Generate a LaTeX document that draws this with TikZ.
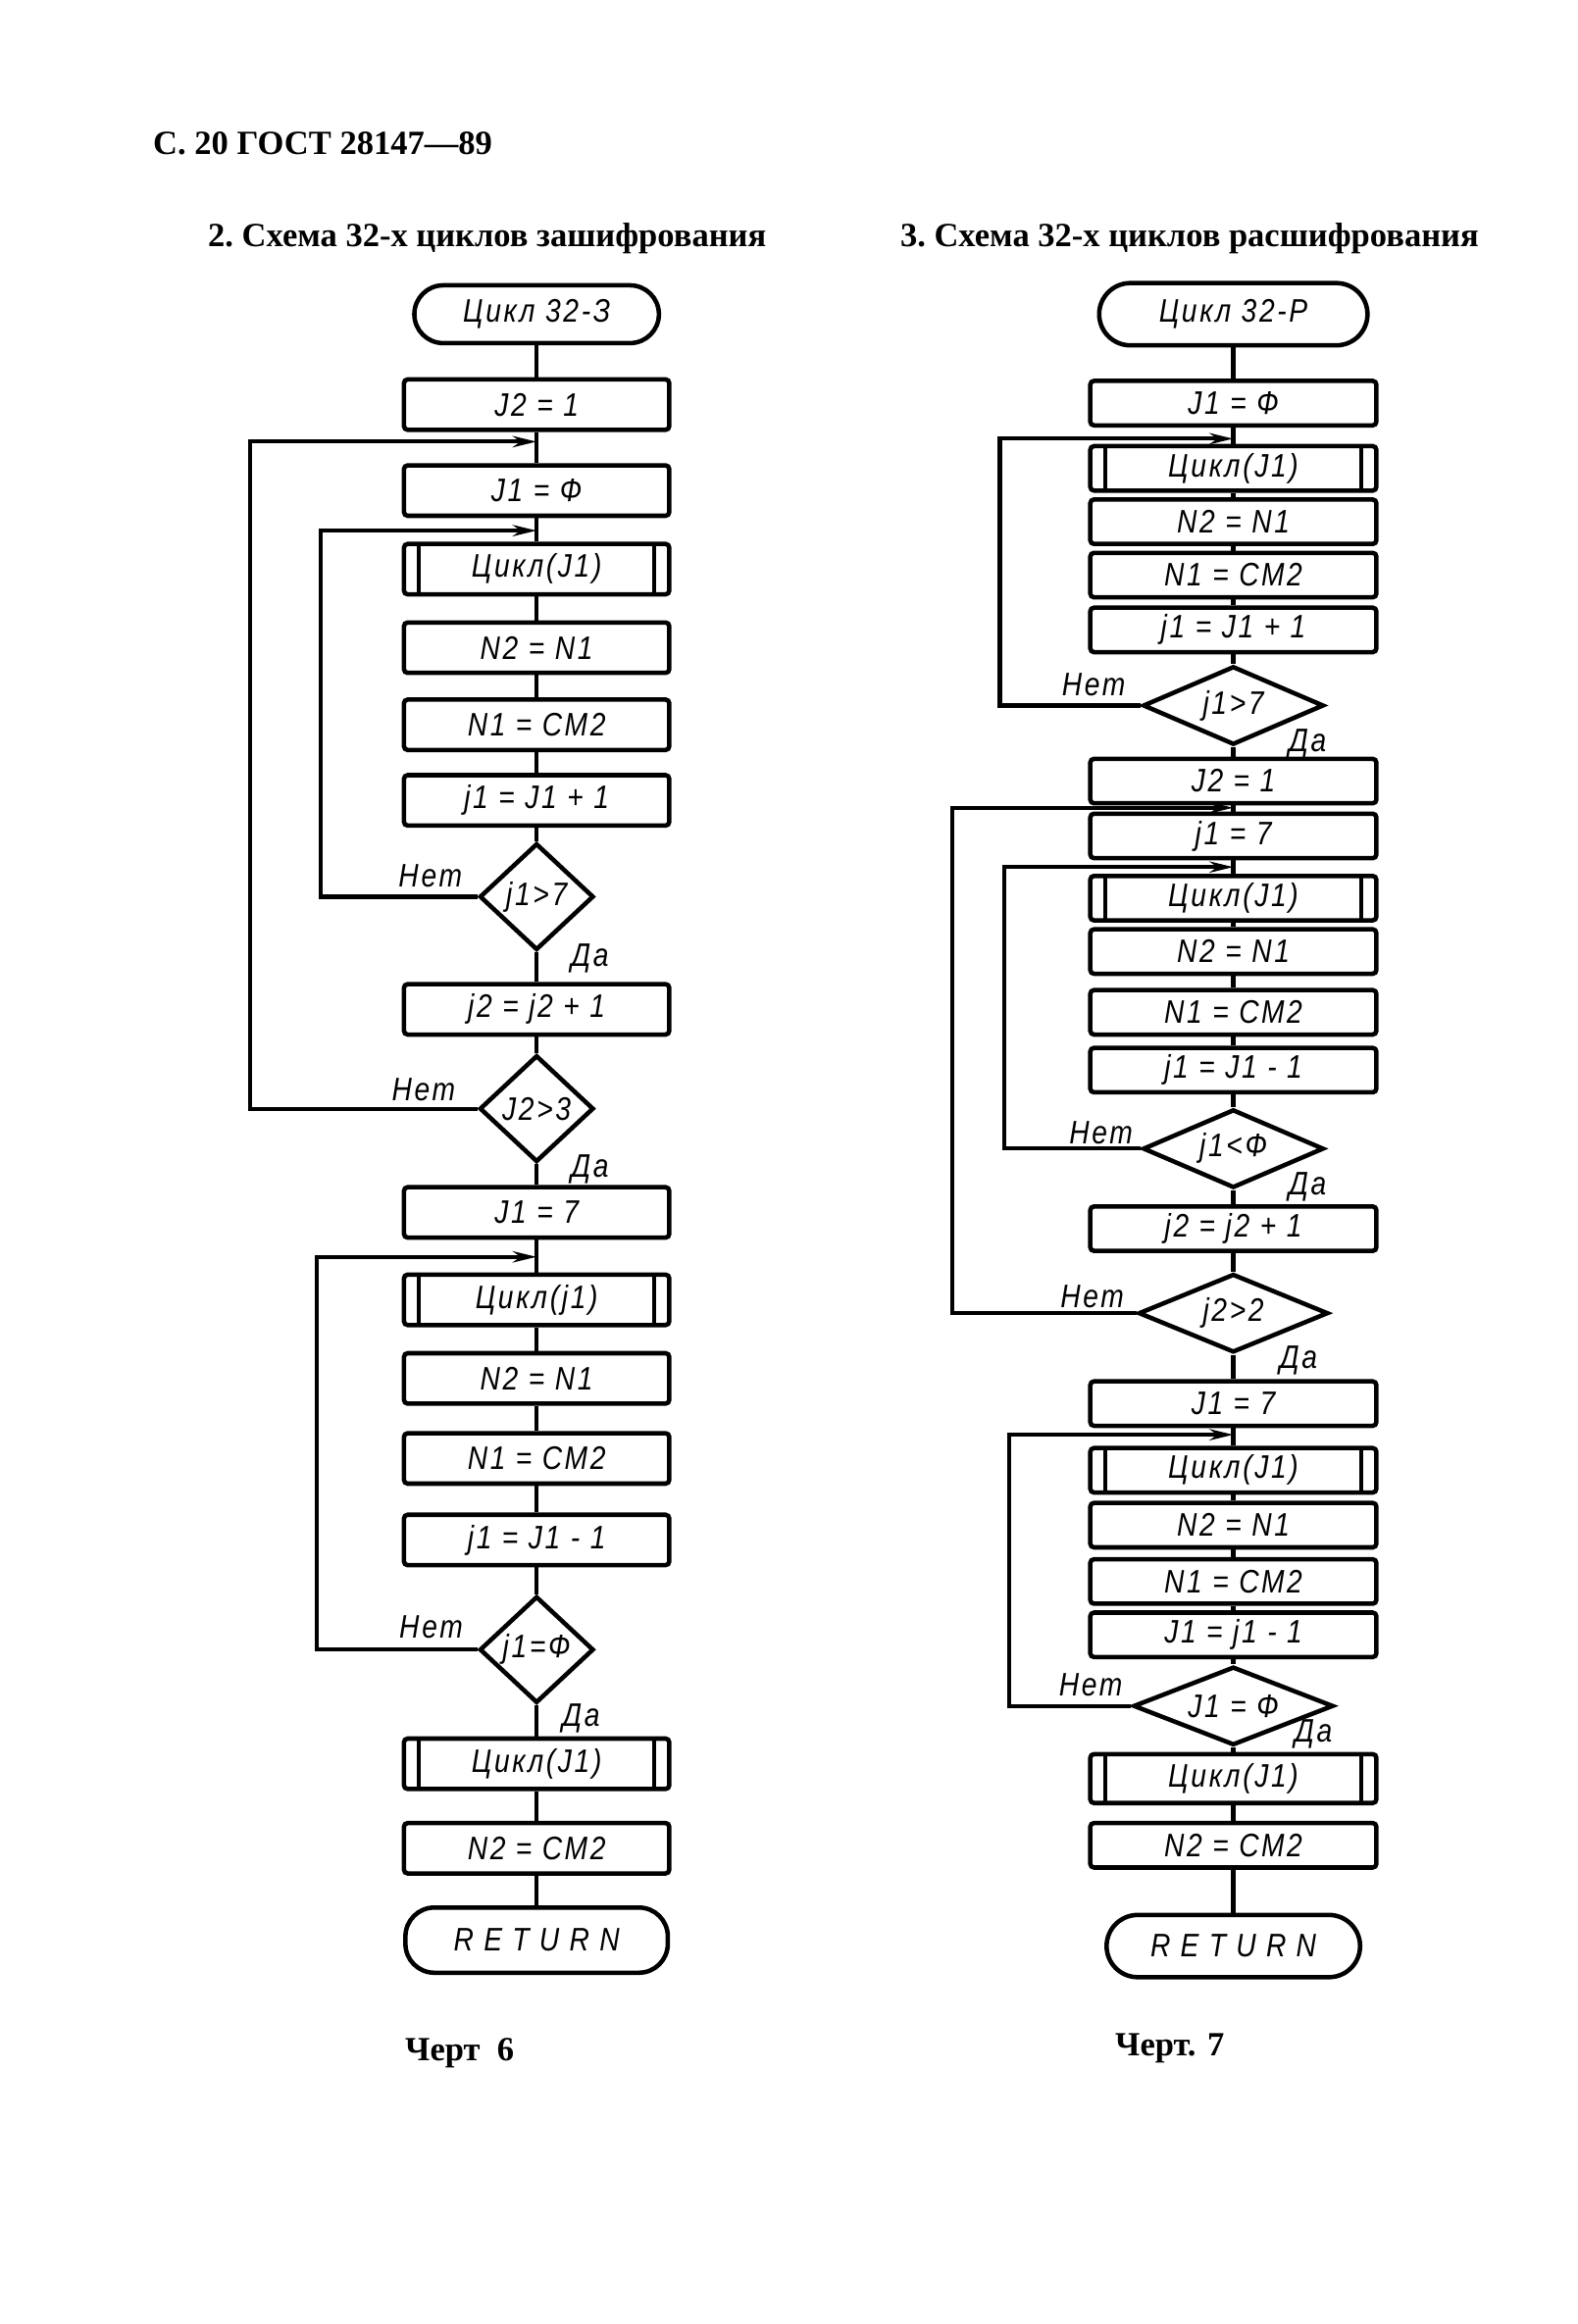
\documentclass[tikz,border=0pt]{standalone}
\usepackage{fontspec}
\setmainfont{Liberation Serif}
\newfontfamily\gostfont[LetterSpace=8, FakeStretch=0.85]{Liberation Sans}
\newfontfamily\gostwide[LetterSpace=31, FakeStretch=0.85]{Liberation Sans}
\usetikzlibrary{shapes,arrows.meta,positioning}
\tikzstyle{block} = [rectangle, draw, line width=0.6mm, rounded corners=0.5mm, inner sep=0pt, minimum width=35.8mm, minimum height=6.8mm, font=\gostfont\itshape\fontsize{12.5}{14}\selectfont]
\tikzstyle{wblock} = [block, minimum width=38.6mm, minimum height=6mm]
\tikzstyle{bars} = [path picture={
  \draw [line width=0.5mm] ([xshift=2mm]path picture bounding box.north west) -- ([xshift=2mm]path picture bounding box.south west);
  \draw [line width=0.5mm] ([xshift=-2mm]path picture bounding box.north east) -- ([xshift=-2mm]path picture bounding box.south east);}]
\tikzstyle{term} = [rectangle, draw, line width=0.6mm, rounded corners=3.9mm, inner sep=0pt, minimum width=33mm, minimum height=7.8mm, font=\gostfont\itshape\fontsize{12.5}{14}\selectfont]
\tikzstyle{decision} = [diamond, draw, line width=0.6mm, inner sep=0pt, minimum width=15.4mm, minimum height=14.4mm, font=\gostfont\itshape\fontsize{12.5}{14}\selectfont]
\tikzstyle{wdecision} = [decision, aspect=2.3, minimum width=24.4mm, minimum height=10.6mm]
\tikzstyle{line} = [draw, line width=0.55mm]
\tikzstyle{loopline} = [draw, line width=0.55mm, -{Stealth[length=3.2mm, width=1.5mm]}]
\tikzstyle{textyn} = [inner sep=0pt, font=\gostfont\itshape\fontsize{12.5}{14}\selectfont]
\tikzstyle{headtext} = [inner sep=0pt, anchor=west, font=\bfseries\fontsize{13}{15}\selectfont]

\begin{document}
\begin{tikzpicture}[node distance = 10.6mm, auto]
      \useasboundingbox (0,0) rectangle (212.8mm,-313.6mm);
      % headings
      \node [headtext] (page) at (20.6mm,-19.4mm) {С. 20 ГОСТ 28147—89};
      \node [headtext] (lhead) at (28mm,-32.2mm) {2.\ Схема 32-х циклов зашифрования};
      \node [headtext] (rhead) at (121.4mm,-32.2mm) {3.\ Схема 32-х циклов расшифрования};
      \node [headtext] (lfig) at (54.6mm,-277mm) {Черт\ \ 6};
      \node [headtext] (rfig) at (150.4mm,-276.4mm) {Черт. 7};

      % place nodes: encryption
      \node [term] (lt) at (72.4mm,-42.4mm) {Цикл 32-З};
      \node [block, below of=lt, node distance=12.2mm] (l1) {J2 = 1};
      \node [block, below of=l1, node distance=11.6mm] (l2) {J1 = Ф};
      \node [block, bars, below of=l2] (l3) {Цикл(J1)};
      \node [block, below of=l3] (l4) {N2 = N1};
      \node [block, below of=l4, node distance=10.4mm] (l5) {N1 = СМ2};
      \node [block, below of=l5, node distance=10.2mm] (l6) {j1 = J1 + 1};
      \node [decision, below of=l6, node distance=13mm] (ld1) {j1>7};
      \node [block, below of=ld1, node distance=15.2mm] (l7) {j2 = j2 + 1};
      \node [decision, below of=l7, node distance=13.4mm] (ld2) {J2>3};
      \node [block, below of=ld2, node distance=14mm] (l8) {J1 = 7};
      \node [block, bars, below of=l8, node distance=11.8mm] (l9) {Цикл(j1)};
      \node [block, below of=l9] (l10) {N2 = N1};
      \node [block, below of=l10, node distance=10.8mm] (l11) {N1 = СМ2};
      \node [block, below of=l11, node distance=11mm] (l12) {j1 = J1 - 1};
      \node [decision, below of=ld1, node distance=101.6mm] (ld3) {j1=Ф};
      \node [block, bars, below of=ld3, node distance=15.4mm] (l13) {Цикл(J1)};
      \node [block, below of=l13, node distance=11.4mm] (l14) {N2 = СМ2};
      \node [term, below of=l14, node distance=12.4mm, minimum width=35.4mm, minimum height=8.8mm, font=\gostwide\itshape\fontsize{12.5}{14}\selectfont] (lr) {RETURN};

      \coordinate [below of=l1, node distance=5mm] (lc1);
      \coordinate [below of=l2, node distance=5.4mm] (lc2);
      \coordinate [below of=l8, node distance=6mm] (lc3);

      \node [textyn, anchor=south east] (ln1) at ([xshift=-2mm, yshift=1.2mm]ld1.west) {Нет};
      \node [textyn, anchor=west] (ly1) at ([xshift=4.6mm, yshift=-0.8mm]ld1.south) {Да};
      \node [textyn, anchor=south east] (ln2) at ([xshift=-2.9mm, yshift=1mm]ld2.west) {Нет};
      \node [textyn, anchor=west] (ly2) at ([xshift=4.6mm, yshift=-0.7mm]ld2.south) {Да};
      \node [textyn, anchor=south east] (ln3) at ([xshift=-1.9mm, yshift=1.4mm]ld3.west) {Нет};
      \node [textyn, anchor=west] (ly3) at ([xshift=3.4mm, yshift=-1.8mm]ld3.south) {Да};

      % place nodes: decryption
      \node [term, minimum width=36.2mm, minimum height=8.4mm, rounded corners=4.2mm] (rt) at (166.4mm,-42.4mm) {Цикл 32-Р};
      \node [wblock, below of=rt, node distance=12mm] (r1) {J1 = Ф};
      \node [wblock, bars, below of=r1, node distance=8.8mm] (r2) {Цикл(J1)};
      \node [wblock, below of=r2, node distance=7.2mm] (r3) {N2 = N1};
      \node [wblock, below of=r3, node distance=7.2mm] (r4) {N1 = СМ2};
      \node [wblock, below of=r4, node distance=7.4mm] (r5) {j1 = J1 + 1};
      \node [wdecision, below of=r5, node distance=10.2mm] (rd1) {j1>7};
      \node [wblock, below of=rd1, node distance=10.2mm] (r6) {J2 = 1};
      \node [wblock, below of=r6, node distance=7.4mm] (r7) {j1 = 7};
      \node [wblock, bars, below of=r7, node distance=8.4mm] (r8) {Цикл(J1)};
      \node [wblock, below of=r8, node distance=7.2mm] (r9) {N2 = N1};
      \node [wblock, below of=r9, node distance=8.2mm] (r10) {N1 = СМ2};
      \node [wblock, below of=r10, node distance=7.8mm] (r11) {j1 = J1 - 1};
      \node [wdecision, below of=r11, node distance=10.6mm] (rd2) {j1<Ф};
      \node [wblock, below of=rd2, node distance=10.8mm] (r12) {j2 = j2 + 1};
      \node [wdecision, below of=r12, node distance=11.4mm, minimum width=25.6mm] (rd3) {j2>2};
      \node [wblock, below of=rd3, node distance=12.2mm] (r13) {J1 = 7};
      \node [wblock, bars, below of=r13, node distance=9mm] (r14) {Цикл(J1)};
      \node [wblock, below of=r14, node distance=7.4mm] (r15) {N2 = N1};
      \node [wblock, below of=r15, node distance=7.6mm] (r16) {N1 = СМ2};
      \node [wblock, below of=r16, node distance=7.2mm] (r17) {J1 = j1 - 1};
      \node [wdecision, below of=r17, node distance=9.6mm, minimum width=27mm] (rd4) {J1 = Ф};
      \node [wblock, bars, below of=rd4, node distance=9.8mm, minimum height=6.6mm] (r18) {Цикл(J1)};
      \node [wblock, below of=r18, node distance=9mm] (r19) {N2 = СМ2};
      \node [term, below of=r19, node distance=13.6mm, minimum width=34.2mm, minimum height=8.4mm, rounded corners=4.2mm, font=\gostwide\itshape\fontsize{12.5}{14}\selectfont] (rr) {RETURN};

      \coordinate [below of=r1, node distance=4.8mm] (rc1);
      \coordinate [below of=r6, node distance=3.6mm] (rc2);
      \coordinate [below of=r7, node distance=4.2mm] (rc3);
      \coordinate [below of=r13, node distance=4.2mm] (rc4);

      \node [textyn, anchor=south east] (rn1) at ([xshift=-2mm, yshift=1.2mm]rd1.west) {Нет};
      \node [textyn, anchor=west] (ry1) at ([xshift=7.4mm, yshift=0.4mm]rd1.south) {Да};
      \node [textyn, anchor=south east] (rn2) at ([xshift=-1mm, yshift=0.6mm]rd2.west) {Нет};
      \node [textyn, anchor=west] (ry2) at ([xshift=7.4mm, yshift=0.4mm]rd2.south) {Да};
      \node [textyn, anchor=south east] (rn3) at ([xshift=-1.6mm, yshift=0.6mm]rd3.west) {Нет};
      \node [textyn, anchor=west] (ry3) at ([xshift=6.2mm, yshift=-0.8mm]rd3.south) {Да};
      \node [textyn, anchor=south east] (rn4) at ([xshift=-1.1mm, yshift=1.2mm]rd4.west) {Нет};
      \node [textyn, anchor=west] (ry4) at ([xshift=8.2mm, yshift=1.8mm]rd4.south) {Да};

      % draw edges: encryption
      \path [line] (lt) -- (l1);
      \path [line] (l1) -- (l2);
      \path [line] (l2) -- (l3);
      \path [line] (l3) -- (l4);
      \path [line] (l4) -- (l5);
      \path [line] (l5) -- (l6);
      \path [line] (l6) -- (ld1);
      \path [line] (ld1) -- (l7);
      \path [line] (l7) -- (ld2);
      \path [line] (ld2) -- (l8);
      \path [line] (l8) -- (l9);
      \path [line] (l9) -- (l10);
      \path [line] (l10) -- (l11);
      \path [line] (l11) -- (l12);
      \path [line] (l12) -- (ld3);
      \path [line] (ld3) -- (l13);
      \path [line] (l13) -- (l14);
      \path [line] (l14) -- (lr);
      \path [loopline] (ld1.west) -- ++(-21.1mm,0) |- (lc2);
      \path [loopline] (ld2.west) -- ++(-30.7mm,0) |- (lc1);
      \path [loopline] (ld3.west) -- ++(-21.7mm,0) |- (lc3);

      % draw edges: decryption
      \path [line] (rt) -- (r1);
      \path [line] (r1) -- (r2);
      \path [line] (r2) -- (r3);
      \path [line] (r3) -- (r4);
      \path [line] (r4) -- (r5);
      \path [line] (r5) -- (rd1);
      \path [line] (rd1) -- (r6);
      \path [line] (r6) -- (r7);
      \path [line] (r7) -- (r8);
      \path [line] (r8) -- (r9);
      \path [line] (r9) -- (r10);
      \path [line] (r10) -- (r11);
      \path [line] (r11) -- (rd2);
      \path [line] (rd2) -- (r12);
      \path [line] (r12) -- (rd3);
      \path [line] (rd3) -- (r13);
      \path [line] (r13) -- (r14);
      \path [line] (r14) -- (r15);
      \path [line] (r15) -- (r16);
      \path [line] (r16) -- (r17);
      \path [line] (r17) -- (rd4);
      \path [line] (rd4) -- (r18);
      \path [line] (r18) -- (r19);
      \path [line] (r19) -- (rr);
      \path [loopline] (rd1.west) -- ++(-19mm,0) |- (rc1);
      \path [loopline] (rd3.west) -- ++(-24.8mm,0) |- (rc2);
      \path [loopline] (rd2.west) -- ++(-18.4mm,0) |- (rc3);
      \path [loopline] (rd4.west) -- ++(-16.4mm,0) |- (rc4);
\end{tikzpicture}
\end{document}
